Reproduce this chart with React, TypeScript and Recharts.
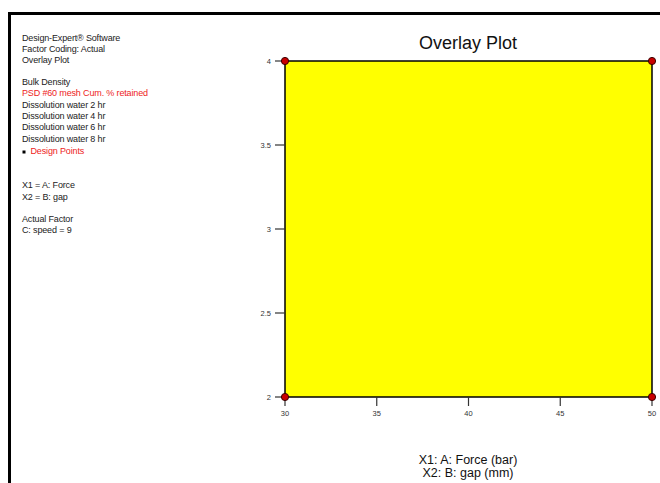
import { ReferenceArea, Scatter, ScatterChart, XAxis, YAxis } from "recharts";

// factor ranges and axis ticks
const forceRange = [30, 50];
const gapRange = [2, 4];
const forceTicks = [30, 35, 40, 45, 50];
const gapTicks = [2, 2.5, 3, 3.5, 4];

// design points sit on the corners of the region
const designForce = [30, 30, 50, 50];
const designGap = [2, 4, 2, 4];

const headerLines = ["Design-Expert® Software", "Factor Coding: Actual", "Overlay Plot"];
const responseLines = [
  { text: "Bulk Density", red: false },
  { text: "PSD #60 mesh Cum. % retained", red: true },
  { text: "Dissolution water  2 hr", red: false },
  { text: "Dissolution water  4 hr", red: false },
  { text: "Dissolution water  6 hr", red: false },
  { text: "Dissolution water  8 hr", red: false },
];
const factorLines = ["X1 = A: Force", "X2 = B: gap"];
const actualLines = ["Actual Factor", "C: speed = 9"];

const designPoints = designForce.map((f, i) => ({ force: f, gap: designGap[i] }));

const RED = "#ee1c1c";
const TXT = "#222";
const FONT = "'Liberation Sans', Arial, sans-serif";

function Dot(props: any) {
  const { cx, cy } = props;
  return <circle cx={cx} cy={cy} r={3.6} fill="#c80000" stroke="#3a0000" strokeWidth={1} />;
}

export default function App() {
  return (
    <div style={{ position: "absolute", left: 0, top: 0, width: 660, height: 483, background: "#fff", overflow: "hidden" }}>
      <div style={{ position: "absolute", left: 8, top: 12, width: 660, height: 483, borderTop: "3px solid #000", borderLeft: "3px solid #000" }} />
      <div style={{ position: "absolute", left: 0, top: 0 }}>
        <ScatterChart width={660} height={483} margin={{ top: 61, right: 8, bottom: 66, left: 255 }}>
          <XAxis
            type="number"
            dataKey="force"
            domain={forceRange}
            ticks={forceTicks}
            height={20}
            axisLine={false}
            tickSize={9}
            tickMargin={5}
            tickLine={{ stroke: "#333", strokeWidth: 1.2 }}
            tick={{ fontSize: 7.5, fill: "#333", fontFamily: FONT }}
          />
          <YAxis
            type="number"
            dataKey="gap"
            domain={gapRange}
            ticks={gapTicks}
            width={30}
            axisLine={false}
            tickSize={10}
            tickMargin={4}
            tickLine={{ stroke: "#333", strokeWidth: 1.2 }}
            tick={{ fontSize: 7.5, fill: "#333", fontFamily: FONT }}
          />
          <ReferenceArea
            x1={forceRange[0]}
            x2={forceRange[1]}
            y1={gapRange[0]}
            y2={gapRange[1]}
            fill="#ffff00"
            fillOpacity={1}
            stroke="#000"
            strokeWidth={1.5}
          />
          <Scatter data={designPoints} shape={<Dot />} isAnimationActive={false} />
        </ScatterChart>
      </div>
      <svg width={660} height={483} style={{ position: "absolute", left: 0, top: 0, pointerEvents: "none" }} fontFamily={FONT}>
        <g fontSize={9} fill={TXT} letterSpacing={-0.15}>
          {headerLines.map((t, i) => (
            <text key={t} x={22} y={40.5 + i * 11.2}>{t}</text>
          ))}
          {responseLines.map((l, i) => (
            <text key={l.text} x={22} y={85 + i * 11.3} fill={l.red ? RED : TXT}>{l.text}</text>
          ))}
          <rect x={22.5} y={150.5} width={3} height={3} fill="#000" />
          <text x={30.5} y={154} fill={RED}>Design Points</text>
          {factorLines.map((t, i) => (
            <text key={t} x={22} y={188.3 + i * 11.2}>{t}</text>
          ))}
          {actualLines.map((t, i) => (
            <text key={t} x={22} y={222.3 + i * 11}>{t}</text>
          ))}
        </g>
        <text x={468} y={48.5} fontSize={18} textAnchor="middle" fill="#111">Overlay Plot</text>
        <text x={468} y={464} fontSize={12.5} textAnchor="middle" fill="#111">X1: A: Force (bar)</text>
        <text x={468} y={476.5} fontSize={12.5} textAnchor="middle" fill="#111">X2: B: gap (mm)</text>
      </svg>
    </div>
  );
}
